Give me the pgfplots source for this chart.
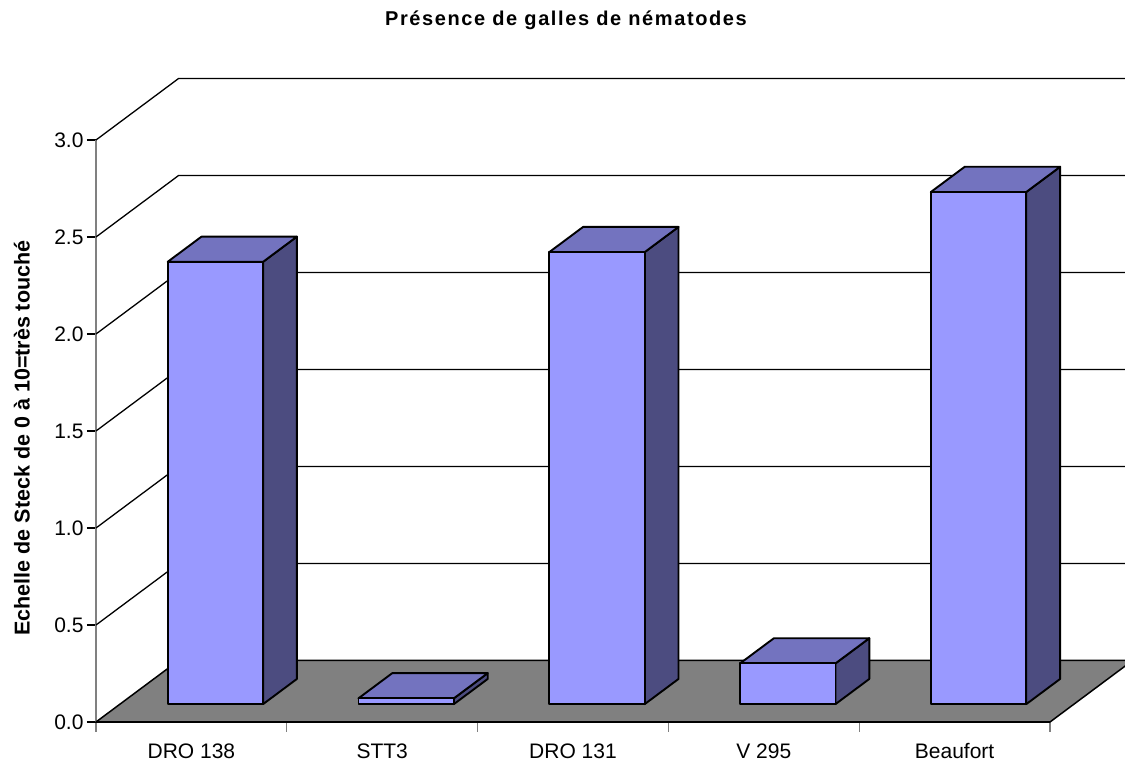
\documentclass[border=0pt]{standalone}
\usepackage{fontspec}
\setmainfont{Liberation Sans}
\newfontfamily\titlefont[LetterSpace=8]{Liberation Sans}
\usepackage{pgfplots}
\pgfplotsset{compat=1.18}
\definecolor{barfront}{RGB}{153,153,255}
\definecolor{bartop}{RGB}{115,115,191}
\definecolor{barside}{RGB}{76,76,128}
\definecolor{floorgray}{RGB}{128,128,128}
% oblique depth offset (in data units) of the back wall
\def\DX{0.4329}
\def\DY{0.317}
% #1 = category index, #2 = value
\newcommand\cuboid[2]{%
  \addplot[draw=black, line width=1.9pt, line join=round, fill=barside]
    table[row sep=\\, x expr=#1+\thisrow{x}+\thisrow{d}*\DX, y expr=#2*\thisrow{h}+\thisrow{d}*\DY]
    {x d h\\ 0.75 0.29 0\\ 0.75 0.70 0\\ 0.75 0.70 1\\ 0.75 0.29 1\\} --cycle;
  \addplot[draw=black, line width=1.9pt, line join=round, fill=bartop]
    table[row sep=\\, x expr=#1+\thisrow{x}+\thisrow{d}*\DX, y expr=#2*\thisrow{h}+\thisrow{d}*\DY]
    {x d h\\ 0.25 0.29 1\\ 0.75 0.29 1\\ 0.75 0.70 1\\ 0.25 0.70 1\\} --cycle;
  \addplot[draw=black, line width=1.9pt, line join=round, fill=barfront]
    table[row sep=\\, x expr=#1+\thisrow{x}+\thisrow{d}*\DX, y expr=#2*\thisrow{h}+\thisrow{d}*\DY]
    {x d h\\ 0.25 0.29 0\\ 0.75 0.29 0\\ 0.75 0.29 1\\ 0.25 0.29 1\\} --cycle;
}
\begin{document}
\begin{tikzpicture}
\begin{axis}[
  x=190.8pt, y=194pt,
  xmin=0, xmax=5, ymin=0, ymax=3,
  clip=false,
  axis x line*=bottom, axis y line*=left,
  x axis line style={black, line width=1.5pt},
  y axis line style={gray, line width=1.2pt},
  /pgf/number format/assume math mode=true,
  ytick={0,0.5,1,1.5,2,2.5,3},
  yticklabel style={/pgf/number format/fixed, /pgf/number format/fixed zerofill, /pgf/number format/precision=1},
  xtick={0.5,1.5,2.5,3.5,4.5},
  xticklabels={DRO 138, STT3, DRO 131, V 295, Beaufort},
  xticklabel style={yshift=-9pt},
  minor xtick={0,1,2,3,4,5},
  tick align=outside,
  major tick length=9pt,
  minor tick length=10pt,
  major x tick style={draw=none},
  minor x tick style={gray, line width=1.2pt},
  major y tick style={black, line width=1.2pt},
  tick label style={font=\fontsize{21}{25}\selectfont, text=black},
  ylabel={Echelle de Steck de 0 à 10=très touché},
  every axis y label/.style={at={(axis cs:-0.388,1.464)}, rotate=90, anchor=center, font=\bfseries\fontsize{21.5}{26}\selectfont},
  title={Présence de galles de nématodes},
  every axis title/.style={at={(axis cs:2.463,3.588)}, anchor=base, font=\titlefont\bfseries\fontsize{20}{24}\selectfont},
]
% floor
\addplot[fill=floorgray, draw=black, line width=1.5pt, line join=round] coordinates {(0,0) (5,0) (5.4329,0.317) (0.4329,0.317)} --cycle;
% side-wall diagonals and back-wall gridlines
\addplot[black, line width=1.3pt] coordinates {(0,0.5) (0.4329,0.817) (5.4329,0.817)};
\addplot[black, line width=1.3pt] coordinates {(0,1.0) (0.4329,1.317) (5.4329,1.317)};
\addplot[black, line width=1.3pt] coordinates {(0,1.5) (0.4329,1.817) (5.4329,1.817)};
\addplot[black, line width=1.3pt] coordinates {(0,2.0) (0.4329,2.317) (5.4329,2.317)};
\addplot[black, line width=1.3pt] coordinates {(0,2.5) (0.4329,2.817) (5.4329,2.817)};
\addplot[black, line width=1.3pt] coordinates {(0,3.0) (0.4329,3.317) (5.4329,3.317)};
% bars
\cuboid{0}{2.28}
\cuboid{1}{0.03}
\cuboid{2}{2.33}
\cuboid{3}{0.21}
\cuboid{4}{2.64}
\coordinate (O) at (axis cs:0,0);
\end{axis}
\pgfresetboundingbox
\path[use as bounding box] ([shift={(-96pt,-45pt)}]O) rectangle ([shift={(1029pt,722pt)}]O);
\end{tikzpicture}
\end{document}
